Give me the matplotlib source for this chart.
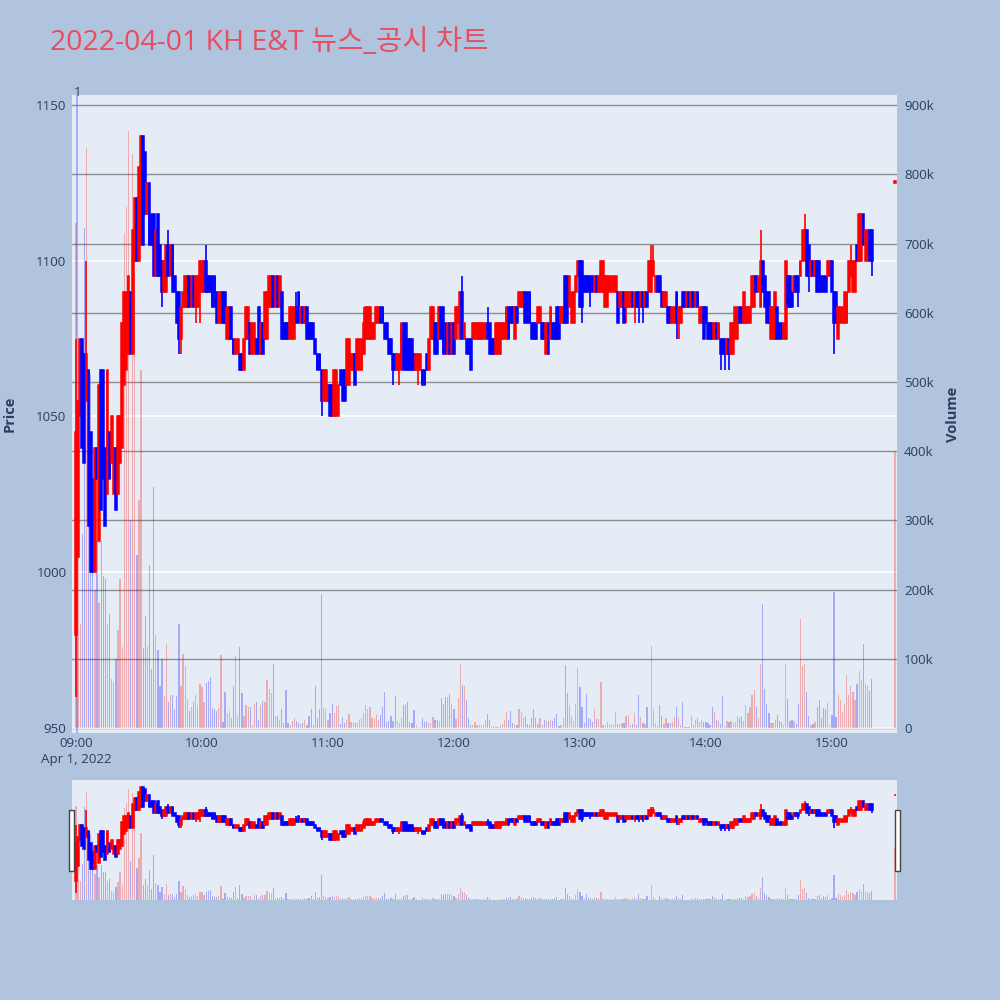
import numpy as np
import matplotlib.pyplot as plt
from matplotlib.patches import Rectangle

plt.rcParams['font.family'] = ['Open Sans', 'Noto Sans CJK KR', 'DejaVu Sans']

# minute index from 09:00 (380 continuous minutes + closing auction at 15:30)
minutes = list(range(380)) + [390]

opens = [
    980, 1005, 1050, 1075, 1070, 1055, 1065, 1045, 1030, 1000, 1040, 1010, 1065, 1065, 1040, 1025, 1045, 1035, 1025, 1040,
    1025, 1035, 1040, 1060, 1065, 1070, 1090, 1070, 1100, 1120, 1100, 1105, 1140, 1135, 1115, 1125, 1115, 1115, 1095, 1115,
    1105, 1100, 1090, 1090, 1105, 1095, 1105, 1095, 1090, 1090, 1075, 1085, 1085, 1085, 1095, 1085, 1095, 1085, 1085, 1090,
    1090, 1090, 1100, 1095, 1095, 1095, 1095, 1090, 1080, 1080, 1090, 1090, 1075, 1075, 1085, 1075, 1070, 1070, 1070, 1070,
    1065, 1075, 1075, 1080, 1070, 1070, 1075, 1085, 1070, 1080, 1075, 1075, 1085, 1085, 1095, 1085, 1095, 1085, 1090, 1080,
    1080, 1080, 1075, 1075, 1075, 1085, 1090, 1080, 1085, 1080, 1085, 1080, 1080, 1080, 1075, 1070, 1070, 1065, 1055, 1055,
    1055, 1060, 1060, 1050, 1050, 1050, 1065, 1065, 1065, 1060, 1060, 1065, 1065, 1070, 1065, 1065, 1065, 1070, 1075, 1075,
    1075, 1075, 1075, 1080, 1080, 1085, 1085, 1080, 1080, 1075, 1075, 1070, 1070, 1065, 1065, 1065, 1080, 1080, 1075, 1075,
    1075, 1070, 1065, 1065, 1065, 1065, 1065, 1070, 1065, 1075, 1075, 1080, 1080, 1075, 1085, 1085, 1080, 1070, 1080, 1070,
    1080, 1075, 1080, 1075, 1090, 1075, 1075, 1075, 1075, 1075, 1075, 1075, 1075, 1075, 1075, 1075, 1080, 1080, 1075, 1075,
    1070, 1070, 1070, 1075, 1075, 1075, 1085, 1085, 1085, 1075, 1085, 1085, 1085, 1085, 1090, 1090, 1090, 1080, 1080, 1080,
    1080, 1080, 1080, 1080, 1070, 1080, 1075, 1080, 1080, 1085, 1085, 1080, 1080, 1095, 1095, 1085, 1080, 1080, 1090, 1095,
    1100, 1100, 1095, 1095, 1095, 1095, 1095, 1090, 1095, 1090, 1090, 1090, 1085, 1085, 1090, 1090, 1090, 1090, 1090, 1085,
    1085, 1090, 1085, 1085, 1085, 1090, 1085, 1090, 1090, 1085, 1090, 1085, 1090, 1090, 1090, 1095, 1090, 1095, 1095, 1090,
    1085, 1085, 1085, 1085, 1080, 1080, 1090, 1080, 1080, 1090, 1090, 1085, 1090, 1085, 1090, 1085, 1090, 1080, 1080, 1085,
    1085, 1080, 1080, 1080, 1075, 1080, 1075, 1075, 1075, 1075, 1070, 1075, 1070, 1070, 1075, 1075, 1085, 1085, 1080, 1080,
    1080, 1080, 1085, 1085, 1095, 1090, 1085, 1100, 1095, 1090, 1090, 1075, 1075, 1075, 1085, 1080, 1080, 1075, 1075, 1095,
    1095, 1090, 1090, 1095, 1095, 1095, 1100, 1100, 1110, 1105, 1095, 1100, 1095, 1100, 1100, 1095, 1095, 1095, 1095, 1095,
    1100, 1090, 1090, 1075, 1080, 1080, 1080, 1080, 1090, 1095, 1090, 1090, 1105, 1100, 1100, 1115, 1100, 1100, 1110, 1110,
    1125]

closes = [
    1045, 1055, 1075, 1040, 1035, 1070, 1015, 1000, 1000, 1040, 1030, 1060, 1020, 1030, 1015, 1065, 1030, 1050, 1040, 1020,
    1050, 1050, 1080, 1090, 1090, 1095, 1070, 1110, 1120, 1100, 1130, 1140, 1105, 1115, 1125, 1105, 1105, 1095, 1110, 1095,
    1095, 1090, 1100, 1105, 1095, 1105, 1090, 1090, 1080, 1075, 1085, 1090, 1095, 1095, 1085, 1095, 1085, 1095, 1095, 1100,
    1100, 1100, 1090, 1090, 1090, 1085, 1085, 1080, 1090, 1090, 1080, 1080, 1085, 1085, 1075, 1070, 1075, 1075, 1065, 1065,
    1075, 1085, 1085, 1070, 1080, 1080, 1070, 1070, 1080, 1070, 1090, 1090, 1095, 1095, 1085, 1095, 1085, 1095, 1075, 1075,
    1075, 1075, 1085, 1085, 1085, 1080, 1080, 1085, 1080, 1085, 1075, 1075, 1075, 1075, 1070, 1065, 1065, 1055, 1065, 1065,
    1060, 1050, 1050, 1065, 1065, 1060, 1060, 1055, 1055, 1075, 1075, 1070, 1070, 1060, 1075, 1075, 1075, 1080, 1085, 1085,
    1085, 1080, 1080, 1085, 1085, 1080, 1080, 1075, 1075, 1070, 1070, 1065, 1065, 1070, 1070, 1080, 1065, 1065, 1065, 1065,
    1065, 1065, 1070, 1070, 1070, 1060, 1060, 1065, 1075, 1085, 1085, 1070, 1070, 1085, 1075, 1070, 1070, 1080, 1070, 1080,
    1070, 1085, 1085, 1090, 1075, 1080, 1070, 1070, 1065, 1080, 1080, 1080, 1080, 1080, 1080, 1080, 1075, 1070, 1070, 1070,
    1080, 1080, 1080, 1080, 1080, 1085, 1075, 1080, 1080, 1085, 1080, 1090, 1090, 1090, 1080, 1080, 1080, 1075, 1075, 1075,
    1085, 1085, 1075, 1075, 1080, 1070, 1085, 1075, 1075, 1075, 1075, 1085, 1085, 1080, 1080, 1095, 1090, 1090, 1095, 1100,
    1085, 1085, 1090, 1090, 1090, 1090, 1090, 1095, 1090, 1095, 1100, 1100, 1095, 1095, 1095, 1095, 1095, 1095, 1080, 1090,
    1090, 1080, 1090, 1090, 1090, 1085, 1090, 1085, 1085, 1090, 1085, 1090, 1085, 1100, 1100, 1100, 1095, 1090, 1090, 1085,
    1090, 1090, 1080, 1080, 1085, 1085, 1080, 1085, 1085, 1085, 1085, 1090, 1085, 1090, 1085, 1090, 1085, 1085, 1085, 1075,
    1080, 1075, 1075, 1075, 1080, 1075, 1080, 1070, 1070, 1070, 1075, 1070, 1080, 1080, 1085, 1085, 1080, 1080, 1090, 1085,
    1085, 1085, 1095, 1095, 1090, 1095, 1100, 1090, 1085, 1080, 1080, 1085, 1085, 1090, 1075, 1075, 1075, 1080, 1100, 1085,
    1085, 1085, 1095, 1090, 1090, 1100, 1110, 1110, 1095, 1095, 1100, 1095, 1100, 1090, 1090, 1090, 1090, 1090, 1100, 1100,
    1090, 1080, 1080, 1085, 1085, 1085, 1090, 1090, 1100, 1100, 1100, 1100, 1100, 1115, 1115, 1105, 1110, 1110, 1100, 1100,
    1125]

# wicks that stick out of the bodies (minute: price)
wick_high = {0: 1075, 5: 1100, 44: 1110, 62: 1105, 105: 1090, 137: 1085, 184: 1095, 196: 1085,
             274: 1105, 275: 1105, 326: 1110, 347: 1115, 369: 1105}
wick_low = {0: 960, 41: 1085, 49: 1070, 50: 1070, 57: 1080, 59: 1080, 117: 1050, 151: 1060,
            154: 1060, 163: 1060, 241: 1080, 245: 1085, 262: 1080, 266: 1080, 268: 1080, 270: 1080,
            286: 1075, 287: 1075, 307: 1065, 309: 1065, 311: 1065, 344: 1085, 349: 1090, 361: 1070, 379: 1095}

# volume in thousands of shares
volume_k = [
    730, 270, 150, 280, 722, 838, 300, 511, 250, 200, 270, 180, 270, 220, 215, 150, 165, 71, 66, 100,
    142, 216, 117, 716, 753, 862, 300, 829, 658, 250, 329, 517, 116, 162, 117, 236, 85, 348, 135, 113,
    60, 100, 46, 122, 38, 48, 48, 27, 46, 150, 60, 107, 89, 42, 24, 31, 38, 48, 33, 63,
    59, 37, 65, 68, 74, 29, 27, 24, 29, 105, 9, 52, 22, 24, 14, 60, 104, 19, 117, 50,
    17, 33, 31, 31, 5, 35, 38, 11, 33, 39, 37, 70, 57, 51, 93, 17, 17, 12, 27, 7,
    55, 7, 5, 10, 14, 10, 7, 6, 7, 12, 4, 17, 28, 5, 61, 14, 27, 194, 29, 27,
    12, 21, 34, 22, 32, 33, 6, 16, 7, 12, 20, 9, 9, 7, 7, 12, 14, 21, 33, 28,
    30, 14, 14, 19, 12, 19, 30, 52, 9, 10, 17, 10, 46, 10, 7, 14, 33, 35, 38, 8,
    7, 26, 4, 2, 2, 14, 9, 10, 7, 7, 16, 11, 11, 10, 44, 35, 45, 45, 49, 35,
    28, 13, 43, 92, 62, 61, 40, 14, 5, 5, 8, 5, 5, 4, 5, 11, 20, 12, 2, 3,
    2, 2, 4, 6, 11, 23, 12, 24, 7, 6, 4, 28, 23, 15, 18, 6, 5, 14, 27, 14,
    6, 15, 5, 11, 10, 10, 11, 10, 14, 20, 3, 5, 15, 91, 50, 33, 18, 10, 35, 87,
    59, 31, 7, 49, 14, 13, 8, 27, 13, 13, 66, 4, 5, 9, 4, 6, 4, 23, 6, 6,
    7, 7, 18, 19, 5, 6, 22, 4, 47, 16, 7, 6, 30, 2, 119, 27, 7, 3, 33, 18,
    6, 14, 7, 7, 8, 16, 30, 14, 4, 37, 2, 2, 2, 18, 4, 12, 15, 9, 11, 9,
    9, 7, 4, 30, 23, 11, 10, 6, 46, 2, 10, 9, 10, 7, 9, 17, 15, 18, 10, 33,
    22, 30, 47, 55, 30, 14, 93, 179, 57, 35, 21, 7, 7, 11, 19, 10, 8, 4, 92, 42,
    10, 11, 10, 6, 35, 158, 89, 92, 52, 18, 5, 6, 9, 30, 41, 14, 29, 27, 36, 4,
    19, 197, 16, 47, 40, 23, 35, 76, 48, 61, 52, 40, 64, 82, 70, 121, 64, 60, 53, 71,
    400]

hour_ticks = [0, 60, 120, 180, 240, 300, 360]
hour_labels = ['09:00\nApr 1, 2022', '10:00', '11:00', '12:00', '13:00', '14:00', '15:00']
price_ticks = [950, 1000, 1050, 1100, 1150]
vol_ticks = [0, 100, 200, 300, 400, 500, 600, 700, 800, 900]
news_minute = 0.7
news_count = '1'
title = '2022-04-01 KH E&T 뉴스_공시 차트'

BG = '#b0c4de'
PLOT_BG = '#e5ecf6'
TXT = '#2a3f5f'
UP, DOWN = '#ff0000', '#0000ff'
UP_V, DOWN_V = (1, 0, 0, 0.28), (0, 0, 1, 0.28)

x = np.array(minutes, float)
o = np.array(opens, float)
c = np.array(closes, float)
vol = np.array(volume_k, float)
hi = np.maximum(o, c)
lo = np.minimum(o, c)
for m, p in wick_high.items():
    hi[minutes.index(m)] = p
for m, p in wick_low.items():
    lo[minutes.index(m)] = p
up = c >= o
cols = [UP if u else DOWN for u in up]
vcols = [UP_V if u else DOWN_V for u in up]
body_lo = np.minimum(o, c)
body_h = np.maximum(np.abs(c - o), 0.6)

XLIM = (-1.9, 391)
PLIM = (948.4, 1153.2)
VLIM = (-7.2, 914.7)


def draw(ax_v, ax_p, lw):
    ax_v.bar(x, vol, width=0.6, color=vcols, linewidth=0, zorder=2)
    ax_p.vlines(x, lo, hi, colors=cols, linewidth=1.2, zorder=3)
    ax_p.bar(x, body_h, bottom=body_lo, width=0.85, color=cols, edgecolor=cols,
             linewidth=lw, zorder=4)
    ax_v.set_xlim(*XLIM)
    ax_v.set_ylim(*VLIM)
    ax_p.set_ylim(*PLIM)


fig = plt.figure(figsize=(10, 10), dpi=100, facecolor=BG)

# main chart
ax_v = fig.add_axes([0.072, 0.267, 0.825, 0.638])
ax_v.set_facecolor(PLOT_BG)
ax_p = ax_v.twinx()
draw(ax_v, ax_p, 1.1)

for s in list(ax_v.spines.values()) + list(ax_p.spines.values()):
    s.set_visible(False)

ax_v.set_yticks(vol_ticks, ['0'] + [f'{v}k' for v in vol_ticks[1:]])
ax_v.yaxis.tick_right()
ax_v.set_axisbelow(True)
ax_v.grid(axis='y', color='#8f8f8f', linewidth=1)
ax_v.grid(axis='x', visible=False)
for p in price_ticks[:-1]:
    ax_v.axhline((p - PLIM[0]) / (PLIM[1] - PLIM[0]) * (VLIM[1] - VLIM[0]) + VLIM[0],
                 color='white', linewidth=1.2, zorder=1.5)

ax_p.set_yticks(price_ticks)
ax_p.yaxis.tick_left()
ax_p.tick_params(axis='y', length=0, pad=4, labelsize=9.6, labelcolor=TXT)
ax_v.tick_params(axis='y', length=0, pad=5, labelsize=9.6, labelcolor=TXT)
ax_v.set_xticks(hour_ticks, hour_labels)
ax_v.tick_params(axis='x', length=0, pad=3, labelsize=9.6, labelcolor=TXT)
for lab in ax_v.get_xticklabels():
    lab.set_linespacing(1.25)

ax_p.axvline(news_minute, color=(0.2, 0.3, 1, 0.4), linewidth=1.3, zorder=2.5)
ax_p.text(news_minute, 1.004, news_count, transform=ax_p.get_xaxis_transform(),
          ha='center', va='center', fontsize=9.6, color=TXT)

# range slider
ax_rv = fig.add_axes([0.072, 0.1, 0.825, 0.12])
ax_rv.set_facecolor(PLOT_BG)
ax_rp = ax_rv.twinx()
draw(ax_rv, ax_rp, 1.1)
ax_rp.set_ylim(948, 1151)
ax_rv.set_ylim(0, 932)
for a in (ax_rv, ax_rp):
    a.set_xticks([])
    a.set_yticks([])
    for s in a.spines.values():
        s.set_visible(False)
for hx in (0.069, 0.895):
    fig.add_artist(Rectangle((hx, 0.129), 0.005, 0.061, transform=fig.transFigure,
                             facecolor='white', edgecolor='#444444', linewidth=1))

fig.text(0.05, 0.957, title, fontsize=20.5, color='#ea4c60', ha='left', va='center')
fig.text(0.010, 0.586, 'Price', rotation=90, ha='center', va='center',
         fontsize=10.5, fontweight='bold', color=TXT)
fig.text(0.953, 0.586, 'Volume', rotation=90, ha='center', va='center',
         fontsize=10.5, fontweight='bold', color=TXT)

fig.savefig('out.png', dpi=100, facecolor=BG)
